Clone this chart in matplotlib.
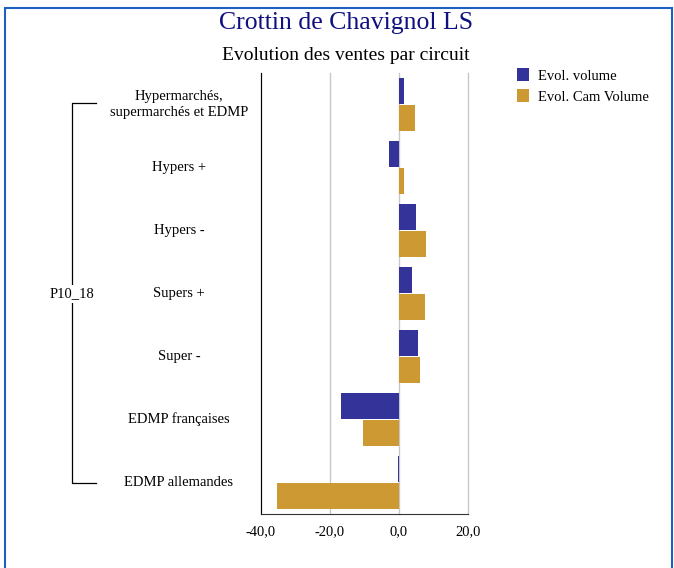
import matplotlib
matplotlib.use("Agg")
import matplotlib.pyplot as plt
import matplotlib.transforms as mtransforms
import numpy as np
from matplotlib.patches import Rectangle

# data
categories = ["Hypermarchés,\nsupermarchés et EDMP", "Hypers +", "Hypers -",
              "Supers +", "Super -", "EDMP françaises", "EDMP allemandes"]
evol_volume = [1.5, -2.8, 4.8, 3.7, 5.4, -16.7, -0.3]
evol_cam_volume = [4.7, 1.5, 7.7, 7.5, 6.0, -10.3, -35.3]
xticks = [-40, -20, 0, 20]
group_label = "P10_18"

plt.rcParams['font.family'] = ['Liberation Serif', 'DejaVu Serif']

fig = plt.figure(figsize=(6.74, 5.68), dpi=100)
ax = fig.add_axes([261 / 674, 1 - 514 / 568, 207 / 674, 441 / 568])

y = np.arange(len(categories))
h = 0.41
ax.barh(y - 0.21, evol_volume, h, color='#333399', label='Evol. volume', zorder=3)
ax.barh(y + 0.21, evol_cam_volume, h, color='#CC9933', label='Evol. Cam Volume', zorder=3)

ax.set_xlim(-40, 20)
ax.set_ylim(len(categories) - 0.5, -0.5)
ax.set_xticks(xticks)
ax.set_xticklabels([f"{v:.1f}".replace('.', ',') for v in xticks], fontsize=10.5)
ax.tick_params(axis='x', length=0, pad=8)
ax.set_yticks([])
ax.grid(axis='x', color='#c8c8c8', lw=1, zorder=0, clip_on=False)
for s in ['top', 'right']:
    ax.spines[s].set_visible(False)
ax.spines['left'].set_color('black')
ax.spines['bottom'].set_color('#333333')

# category labels, centred to the left of the axes
trans = mtransforms.blended_transform_factory(fig.transFigure, ax.transData)
for yi, c in zip(y, categories):
    fig.text(179 / 674, yi, c, ha='center', va='center', fontsize=10.5,
             transform=trans, linespacing=1.25)

# group bracket
fig.add_artist(plt.Line2D([96 / 674, 72 / 674, 72 / 674, 96 / 674],
                          [1 - 103 / 568, 1 - 103 / 568, 1 - 483 / 568, 1 - 483 / 568],
                          color='black', lw=0.9))
fig.text(72 / 674, 1 - 294 / 568, group_label, ha='center', va='center', fontsize=10.5,
         bbox=dict(facecolor='white', edgecolor='none', pad=2))

# titles
fig.text(346 / 674, 1 - 23 / 568, "Crottin de Chavignol LS", ha='center', va='center',
         fontsize=18.5, color='#101080')
fig.text(346 / 674, 1 - 55 / 568, "Evolution des ventes par circuit", ha='center', va='center',
         fontsize=14)

fig.legend(loc='upper left', bbox_to_anchor=(504 / 674, 1 - 55 / 568), frameon=False,
           fontsize=10.5, handlelength=0.8, handleheight=1.0, handletextpad=0.6,
           labelspacing=0.45)

# frame around the figure
fig.add_artist(Rectangle((5 / 674, -0.1), 667 / 674, 1.1 - 8 / 568, fill=False,
                         edgecolor='#1f5fbf', lw=1.5, transform=fig.transFigure))

fig.savefig("out.png", dpi=100)
